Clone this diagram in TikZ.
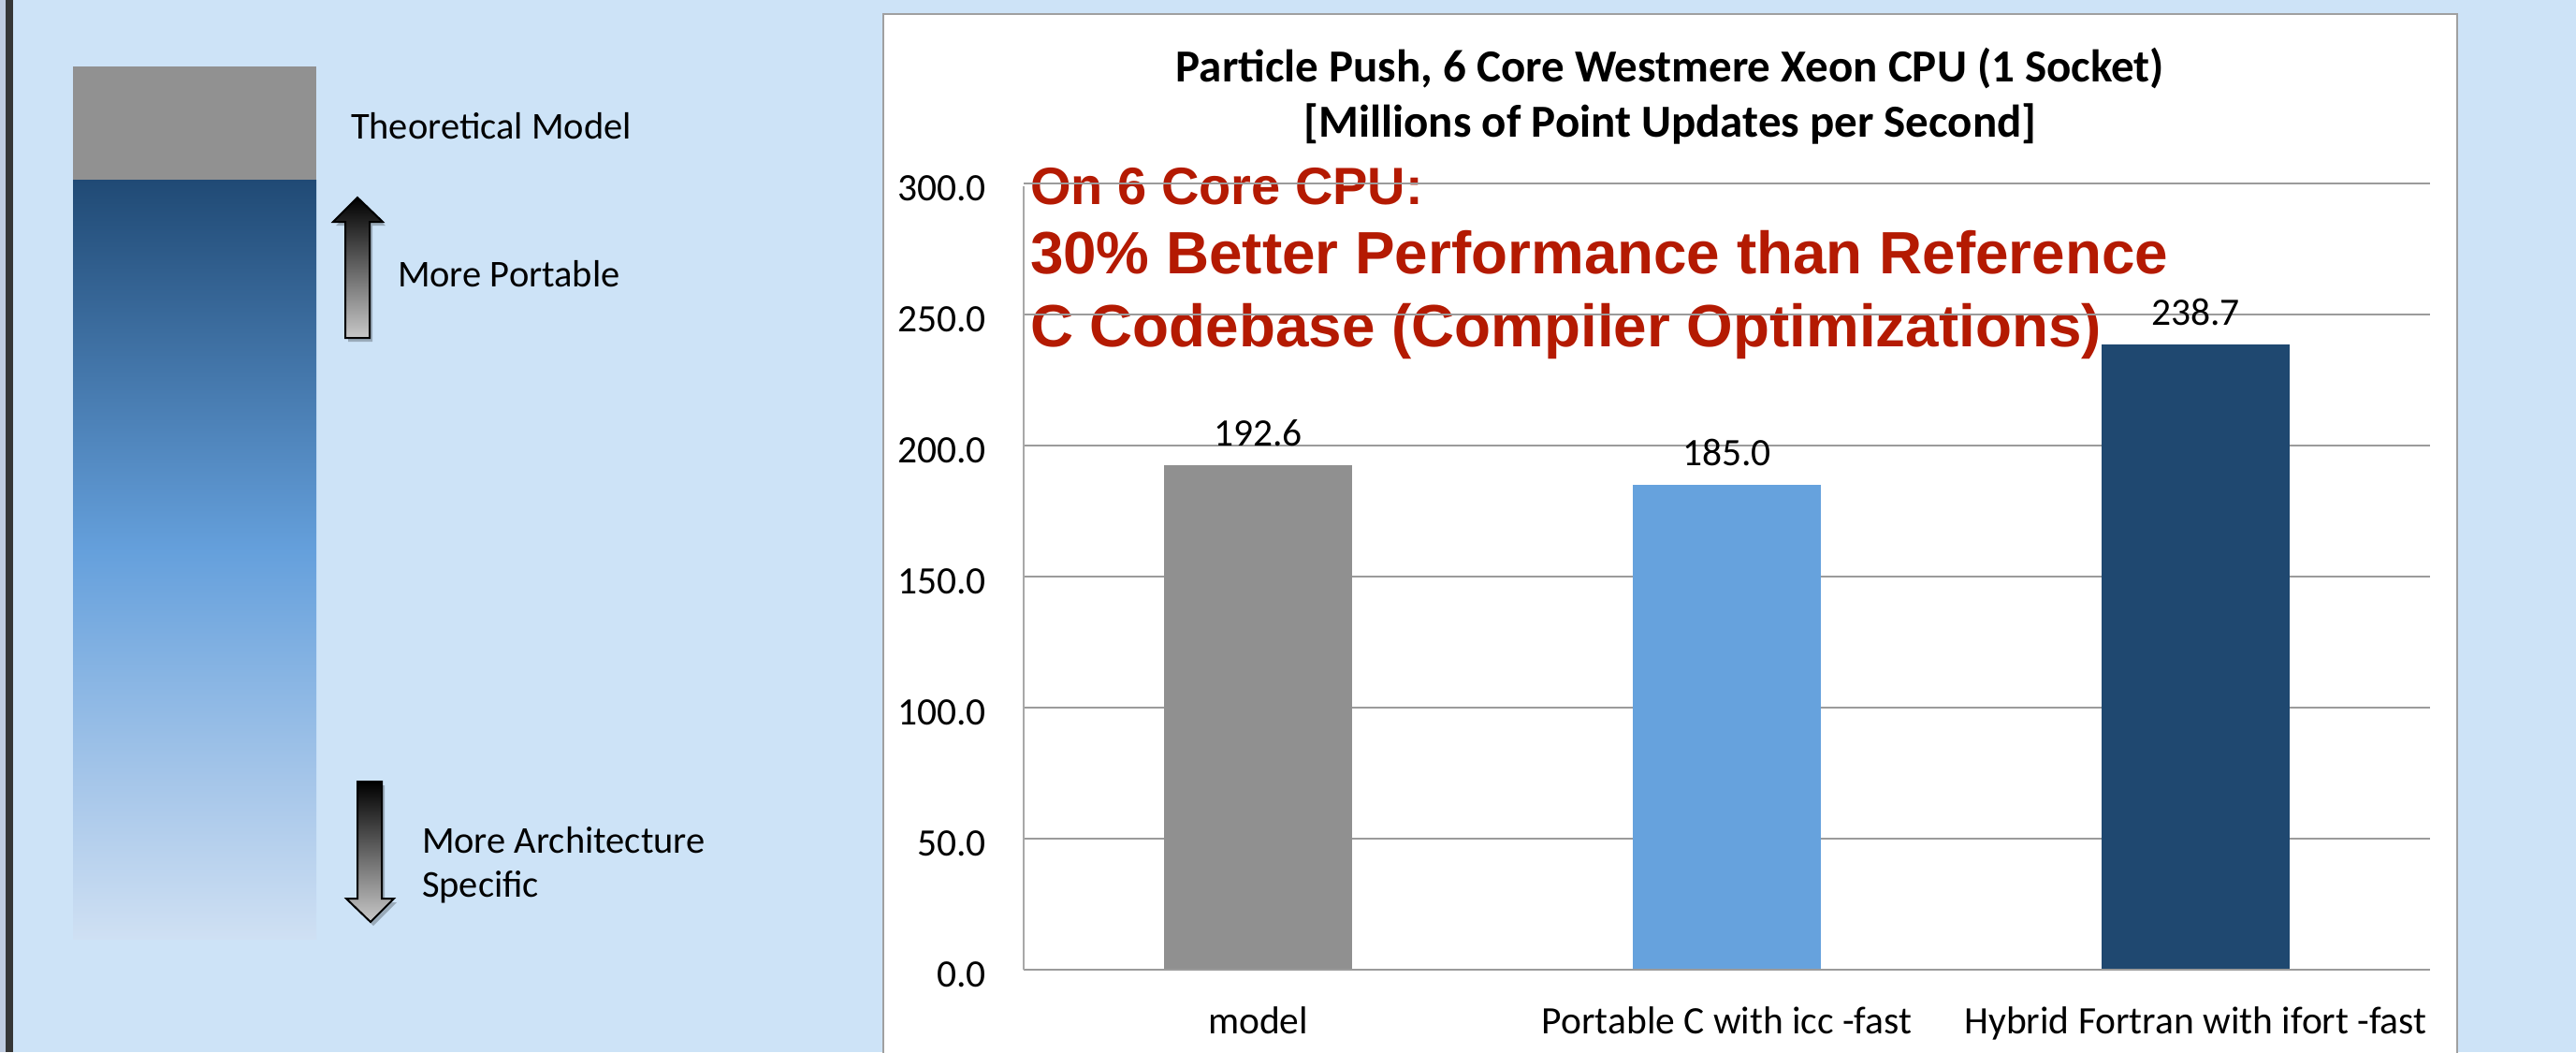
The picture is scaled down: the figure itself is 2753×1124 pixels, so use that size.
\documentclass[tikz,border=0pt]{standalone}
\usepackage{fontspec}
\setmainfont{Carlito}
\newfontfamily\arialfont{Liberation Sans}
\definecolor{bg}{RGB}{205,227,247}
\definecolor{stripl}{RGB}{192,204,224}
\definecolor{stripd}{RGB}{54,54,54}
\definecolor{topgray}{RGB}{145,145,145}
\definecolor{bA}{RGB}{32,74,117}
\definecolor{bB}{RGB}{101,160,220}
\definecolor{bC}{RGB}{169,200,234}
\definecolor{bD}{RGB}{207,224,243}
\definecolor{arrowlow}{RGB}{200,200,200}
\definecolor{panelb}{RGB}{160,160,160}
\definecolor{gridc}{RGB}{155,155,155}
\definecolor{axisc}{RGB}{168,168,168}
\definecolor{redc}{RGB}{180,26,2}
\definecolor{cmodel}{RGB}{144,144,144}
\definecolor{cport}{RGB}{102,162,221}
\definecolor{chyb}{RGB}{31,72,112}
\pgfdeclareverticalshading{barshade}{100bp}{color(0bp)=(bD); color(25bp)=(bD); color(34.5bp)=(bC); color(50.5bp)=(bB); color(75bp)=(bA); color(100bp)=(bA)}
\tikzset{
  lbl/.style={font=\fontsize{40.5}{47}\selectfont, anchor=base west, text=black},
  ax/.style={font=\fontsize{41.5}{50}\selectfont, anchor=base east, text=black},
  cat/.style={font=\fontsize{41.5}{50}\selectfont, anchor=base, text=black},
  ttl/.style={font=\fontsize{49}{58}\selectfont\bfseries, anchor=base, text=black},
  redA/.style={font={\arialfont\bfseries\fontsize{56}{66}\selectfont}, text=redc, anchor=base west},
  redB/.style={font={\arialfont\bfseries\fontsize{63.8}{75}\selectfont}, text=redc, anchor=base west},
  gridln/.style={draw=gridc, line width=2.8pt},
  blockarrow/.style={draw=black, line width=2pt, line join=miter, top color=black, bottom color=arrowlow},
  arrshadow/.style={fill=black, opacity=0.25},
}
\begin{document}
\begin{tikzpicture}[x=1pt,y=-1pt, every node/.style={inner sep=0pt, outer sep=0pt}]
\useasboundingbox (0,0) rectangle (2753,1124);
% background
\fill[bg] (0,0) rectangle (2753,1124);
\fill[stripl] (0,0) rectangle (6,1124);
\fill[stripd] (6,0) rectangle (14,1124);

% left gradient bar
\fill[topgray] (78,71) rectangle (338,192);
\shade[shading=barshade] (78,192) rectangle (338,1003);

% block arrows (shadows first)
\fill[arrshadow, xshift=3pt, yshift=-4pt] (369,361) -- (369,237) -- (356,237) -- (382,211) -- (409,237) -- (395,237) -- (395,361) -- cycle;
\shadedraw[blockarrow] (369,361) -- (369,237) -- (356,237) -- (382,211) -- (409,237) -- (395,237) -- (395,361) -- cycle;
\fill[arrshadow, xshift=3pt, yshift=-4pt] (382,835) -- (408,835) -- (408,960) -- (421,960) -- (396,985) -- (370,960) -- (382,960) -- cycle;
\shadedraw[blockarrow] (382,835) -- (408,835) -- (408,960) -- (421,960) -- (396,985) -- (370,960) -- (382,960) -- cycle;

\node[lbl] (theo) at (375,148) {Theoretical Model};
\node[lbl] (port) at (425,306) {More Portable};
\node[lbl] (arch1) at (451,911) {More Architecture};
\node[lbl] (arch2) at (451,958) {Specific};

% chart panel
\draw[draw=panelb, line width=2.5pt, fill=white] (944,15) rectangle (2626,1140);

\node[ttl] (title1) at (1785,88) {Particle Push, 6 Core Westmere Xeon CPU (1 Socket)};
\node[ttl] (title2) at (1785,146) {[Millions of Point Updates per Second]};

% red annotation (behind the grid lines)
\node[redA] (red1) at (1101,218) {On 6 Core CPU:};
\node[redB] (red2) at (1101,292) {30\% Better Performance than Reference};
\node[redB] (red3) at (1101,370) {C Codebase (Compiler Optimizations)};

% grid and axis
\foreach \v in {0,50,...,300} {
  \draw[gridln] (1094,{1036-2.8*\v}) -- (2597,{1036-2.8*\v});
  \node[ax] (tick\v) at (1054,{1054-2.8*\v}) {\v.0};
}
\draw[draw=axisc, line width=2pt] (1094,199) -- (1094,1036);

% bars
\fill[cmodel] (1244,497) rectangle (1445,1035);
\fill[cport] (1745,518) rectangle (1946,1035);
\fill[chyb] (2246,368) rectangle (2447,1035);

\node[cat] (v1) at (1344.5,476) {192.6};
\node[cat] (v2) at (1845.5,497) {185.0};
\node[cat] (v3) at (2346.5,347) {238.7};

\node[cat] (c1) at (1344.5,1104) {model};
\node[cat] (c2) at (1845.5,1104) {Portable C with icc -fast};
\node[cat] (c3) at (2346.5,1104) {Hybrid Fortran with ifort -fast};
\end{tikzpicture}
\end{document}
